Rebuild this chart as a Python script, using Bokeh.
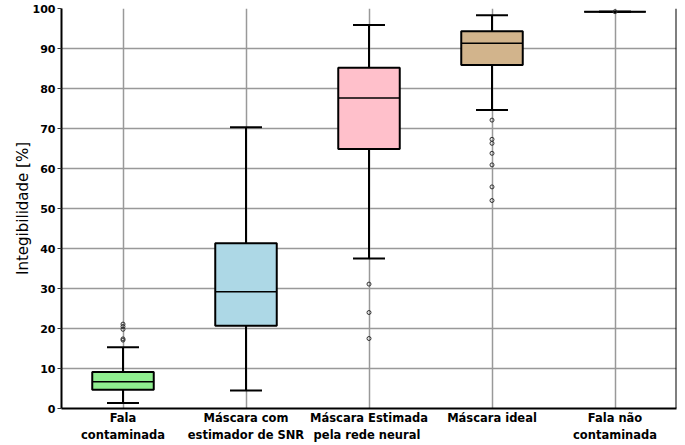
from bokeh.plotting import figure
from bokeh.models import FixedTicker, Span
from bokeh.embed import file_html
from bokeh.resources import INLINE

categories = ["Fala\ncontaminada", "Máscara com\nestimador de SNR",
              "Máscara Estimada\npela  rede neural", "Máscara ideal",
              "Fala não\ncontaminada"]
positions = [1, 2, 3, 4, 5]
q1 = [4.7, 20.7, 64.9, 85.9, 99.2]
medians = [6.7, 29.2, 77.6, 91.3, 99.2]
q3 = [9.1, 41.3, 85.2, 94.3, 99.2]
whisker_low = [1.4, 4.5, 37.5, 74.6, 99.2]
whisker_high = [15.3, 70.3, 95.9, 98.3, 99.2]
outliers = [[17.1, 17.4, 19.8, 20.5, 21.1], [], [31.1, 24.0, 17.5],
            [72.1, 67.3, 66.3, 63.8, 60.9, 55.4, 52.0], [99.2]]
box_colors = ["#90EE90", "#ADD8E6", "#FFC0CB", "#D2B48C", "#C0C0C0"]
y_ticks = list(range(0, 101, 10))

BOX_HALF = 0.25
CAP_HALF = 0.13
FONT = "DejaVu Sans"

p = figure(width=685, height=445, x_range=(0.5, 5.5), y_range=(0, 100),
           output_backend="svg", toolbar_location=None,
           min_border_left=61, min_border_right=9, min_border_top=8,
           min_border_bottom=34)
p.outline_line_color = None
p.background_fill_color = "white"

# grid
p.xgrid.ticker = FixedTicker(ticks=positions)
p.ygrid.ticker = FixedTicker(ticks=y_ticks)
for g in (p.xgrid, p.ygrid):
    g.grid_line_color = "#999999"
    g.grid_line_width = 1.5

# x axis
p.xaxis.ticker = FixedTicker(ticks=positions)
p.xaxis.major_label_overrides = {pos: cat for pos, cat in zip(positions, categories)}
p.xaxis.major_label_text_font = FONT
p.xaxis.major_label_text_font_size = "11.5px"
p.xaxis.major_label_text_font_style = "bold"
p.xaxis.major_label_text_color = "black"
p.xaxis.major_label_text_line_height = 1.25
p.xaxis.major_label_standoff = 2
p.xaxis.major_tick_out = 0
p.xaxis.major_tick_in = 0
p.xaxis.minor_tick_line_color = None
p.xaxis.axis_line_color = "black"
p.xaxis.axis_line_width = 2

# y axis
p.yaxis.ticker = FixedTicker(ticks=y_ticks)
p.yaxis.axis_label = "Integibilidade [%]"
p.yaxis.axis_label_text_font = FONT
p.yaxis.axis_label_text_font_size = "15px"
p.yaxis.axis_label_text_font_style = "normal"
p.yaxis.axis_label_text_color = "black"
p.yaxis.axis_label_standoff = -2
p.yaxis.major_label_text_font = FONT
p.yaxis.major_label_text_font_size = "11px"
p.yaxis.major_label_text_font_style = "bold"
p.yaxis.major_label_text_color = "black"
p.yaxis.major_label_standoff = 2
p.yaxis.major_tick_out = 4
p.yaxis.major_tick_in = 0
p.yaxis.major_tick_line_color = "#333333"
p.yaxis.minor_tick_line_color = None
p.yaxis.axis_line_color = "black"
p.yaxis.axis_line_width = 2

# right spine
p.add_layout(Span(location=5.5, dimension="height", line_color="black", line_width=2))

# whiskers
p.segment(x0=positions, x1=positions, y0=q3, y1=whisker_high, line_color="black", line_width=2)
p.segment(x0=positions, x1=positions, y0=q1, y1=whisker_low, line_color="black", line_width=2)
cap_l = [x - CAP_HALF for x in positions]
cap_r = [x + CAP_HALF for x in positions]
p.segment(x0=cap_l, x1=cap_r, y0=whisker_high, y1=whisker_high, line_color="black", line_width=2)
p.segment(x0=cap_l, x1=cap_r, y0=whisker_low, y1=whisker_low, line_color="black", line_width=2)

# boxes
p.vbar(x=positions, width=2 * BOX_HALF, bottom=q1, top=q3, fill_color=box_colors,
       line_color="black", line_width=2)
box_l = [x - BOX_HALF for x in positions]
box_r = [x + BOX_HALF for x in positions]
p.segment(x0=box_l, x1=box_r, y0=medians, y1=medians, line_color="black", line_width=1.5)

# outliers
ox, oy = [], []
for pos, vals in zip(positions, outliers):
    for v in vals:
        ox.append(pos)
        oy.append(v)
p.scatter(x=ox, y=oy, marker="circle", size=4, fill_color=None,
          line_color="#333333", line_width=1)

open("out.html", "w").write(file_html(p, INLINE))
